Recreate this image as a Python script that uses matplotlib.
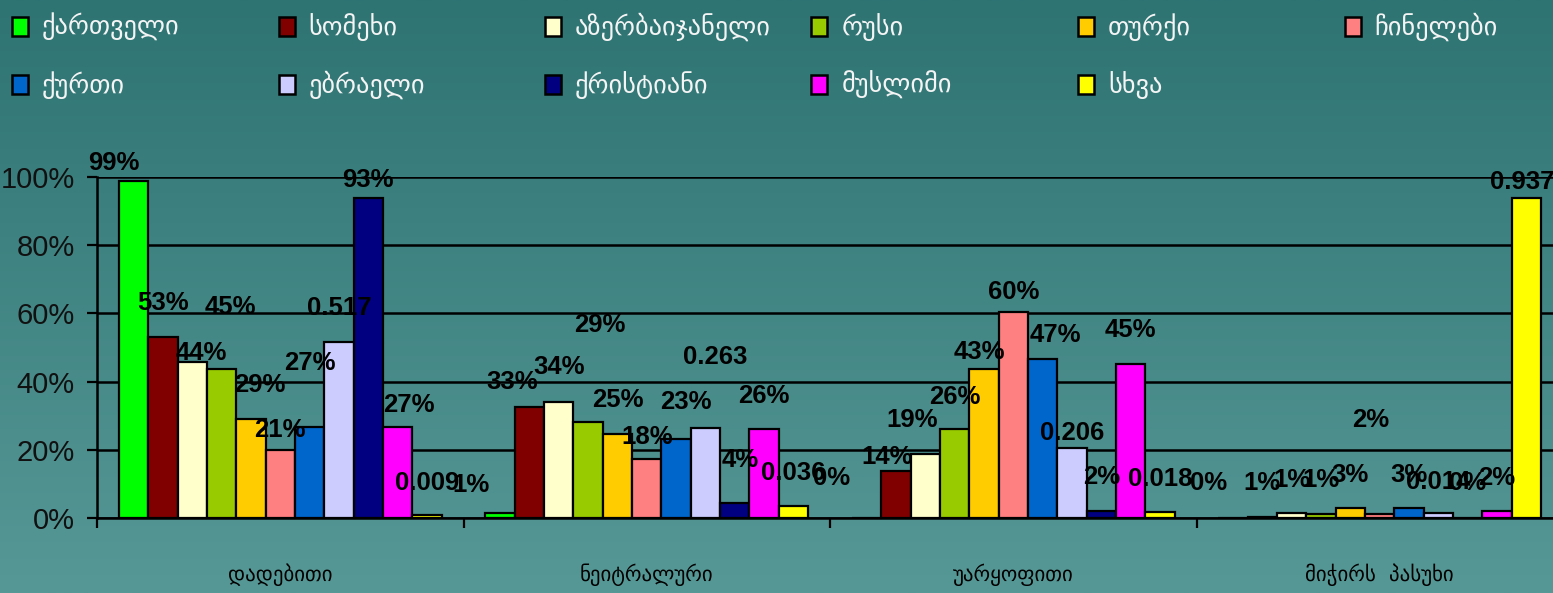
import numpy as np
import matplotlib
matplotlib.use("Agg")
import matplotlib.pyplot as plt
from matplotlib.patches import Rectangle

# data
categories = ["დადებითი", "ნეიტრალური", "უარყოფითი", "მიჭირს  პასუხი"]
series = ["ქართველი", "სომეხი", "აზერბაიჯანელი", "რუსი", "თურქი", "ჩინელები",
          "ქურთი", "ებრაელი", "ქრისტიანი", "მუსლიმი", "სხვა"]

kartveli = [98.8, 1.4, 0.0, 0.0]
somekhi = [53.1, 32.6, 13.8, 0.3]
azerbaijaneli = [45.7, 34.1, 18.8, 1.4]
rusi = [43.7, 28.2, 26.1, 1.2]
turki = [29.0, 24.5, 43.6, 2.8]
chinelebi = [19.9, 17.2, 60.3, 1.1]
kurti = [26.7, 23.2, 46.5, 2.8]
ebraeli = [51.7, 26.3, 20.6, 1.4]
kristiani = [93.8, 4.3, 2.1, 0.0]
muslimi = [26.7, 26.1, 45.1, 2.1]
skhva = [0.9, 3.6, 1.8, 93.7]
values = [kartveli, somekhi, azerbaijaneli, rusi, turki, chinelebi,
          kurti, ebraeli, kristiani, muslimi, skhva]

labels = [
    ["99%", "1%", "0%", "0%"],
    ["53%", "33%", "14%", "1%"],
    ["44%", "34%", "19%", "1%"],
    ["45%", "29%", "26%", "1%"],
    ["29%", "25%", "43%", "3%"],
    ["21%", "18%", "60%", "2%"],
    ["27%", "23%", "47%", "3%"],
    ["0.517", "0.263", "0.206", "0.014"],
    ["93%", "4%", "2%", "0%"],
    ["27%", "26%", "45%", "2%"],
    ["0.009", "0.036", "0.018", "0.937"],
]

colors = ["#00FF00", "#800000", "#FFFFCC", "#99CC00", "#FFCC00", "#FF8080",
          "#0066CC", "#CCCCFF", "#000080", "#FF00FF", "#FFFF00"]

# label nudges (dx in bar widths, dy in % points) - the labels were dragged around
label_dx = [
    [-0.66, -1.0, -1.2, -0.85],
    [0, -0.6, -0.3, 0],
    [0.3, 0, -0.45, 0],
    [0.3, 0.4, 0, 0],
    [0.3, 0, -0.15, 0],
    [0, 0, 0, -0.3],
    [0, 0.35, 0.45, 0],
    [0, 0.35, 0, 0],
    [0, 0.2, 0, 0],
    [0.4, 0, 0, 0],
    [0, 0, 0, -0.15],
]
label_dy = [
    [5.3, 8.3, 11.7, 10.3],
    [9.9, 7.3, 4.1, 10],
    [2.7, 10.2, 9.9, 9.7],
    [18.2, 28.4, 9.4, 10],
    [10, 10.1, 5.1, 9.8],
    [5.9, 6.6, 6, 27.6],
    [18.8, 10.8, 7.2, 9.8],
    [10, 20.8, 4.3, 9.2],
    [5.3, 12.7, 9.9, 10.3],
    [6.4, 9.7, 10, 9.6],
    [9.4, 9.6, 9.7, 4.8],
]

W, H = 1553, 593
fig = plt.figure(figsize=(W / 100, H / 100), dpi=100)

# gradient background
bg = fig.add_axes([0, 0, 1, 1], zorder=-10)
grad = np.linspace(0, 1, 256).reshape(-1, 1)
top = np.array([46, 116, 115]) / 255
bot = np.array([86, 152, 150]) / 255
img = top + (bot - top) * grad[..., None]
bg.imshow(img, aspect="auto", extent=[0, 1, 0, 1])
bg.axis("off")

ax = fig.add_axes([97 / W, 75 / H, (4 * 366.5) / W, (518 - 177) / H])
ax.set_facecolor("none")

nser = len(series)
barw = 0.88 / nser
x0 = np.arange(len(categories))
for j in range(nser):
    xs = x0 + 0.06 + (j + 0.5) * barw
    ax.bar(xs, values[j], width=barw, color=colors[j], edgecolor="black",
           linewidth=1.6, zorder=3)
    for i in range(len(categories)):
        ax.text(xs[i] + label_dx[j][i] * barw, values[j][i] + label_dy[j][i],
                labels[j][i], ha="center", va="center", fontsize=18.5,
                fontweight="bold", color="black", zorder=5, clip_on=False,
                family="Liberation Sans")

ax.set_xlim(0, 4)
ax.set_ylim(0, 100)
ax.set_yticks(np.arange(0, 101, 20))
ax.set_yticklabels([f"{v}%" for v in range(0, 101, 20)],
                   fontsize=21, family="Liberation Sans", color="#111111")
ax.yaxis.grid(True, color="black", linewidth=1.8, zorder=1)
ax.set_axisbelow(True)
ax.tick_params(axis="y", direction="out", length=7, width=1.6, pad=9)

ax.set_xticks(np.arange(0, 5))
ax.set_xticklabels([])
ax.tick_params(axis="x", direction="out", length=7, width=1.6)
ax.set_xticks(x0 + 0.5, minor=True)
ax.set_xticklabels(categories, minor=True, fontsize=15, family="DejaVu Sans")
ax.tick_params(axis="x", which="minor", length=0, pad=33)

for s in ["top", "right"]:
    ax.spines[s].set_visible(False)
for s in ["left", "bottom"]:
    ax.spines[s].set_linewidth(1.8)

# legend drawn as in the slide: 6 evenly spaced columns
for k, name in enumerate(series):
    col, row = k % 6, k // 6
    px = 12 + col * 266.5
    py = 27 + row * 58
    fig.patches.append(Rectangle((px / W, 1 - (py + 9) / H), 16 / W, 19 / H,
                                 transform=fig.transFigure, facecolor=colors[k],
                                 edgecolor="black", linewidth=1.8))
    fig.text((px + 30) / W, 1 - py / H, name, ha="left", va="center",
             fontsize=19, color="#F4F4F4", family="DejaVu Sans")

fig.savefig("out.png", dpi=100)
